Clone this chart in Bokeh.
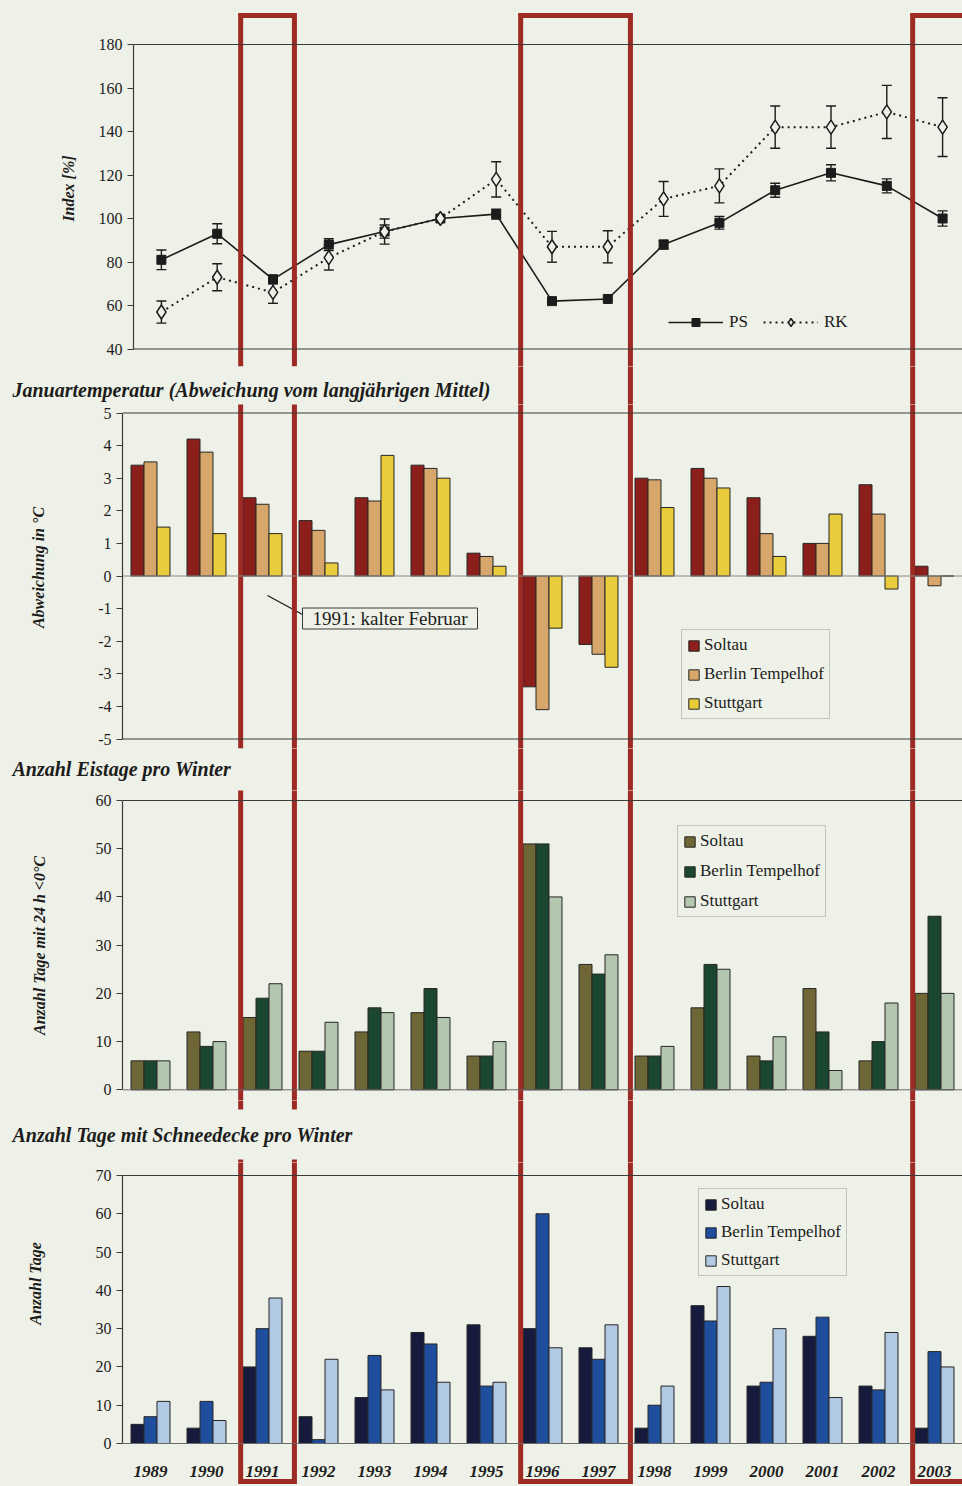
import math
from bokeh.plotting import figure
from bokeh.models import (Range1d, FixedTicker, Span, Label, Legend, LegendItem,
                          ColumnDataSource, Whisker, TeeHead)
from bokeh.layouts import column, row
from bokeh.core.properties import value
from bokeh.embed import file_html
from bokeh.resources import INLINE

# ---------------- data ----------------
YEARS = list(range(1989, 2004))
YEAR_LABELS = [str(y) for y in YEARS]
STATIONS = ["Soltau", "Berlin Tempelhof", "Stuttgart"]

PS = [81, 93, 72, 88, 94, 100, 102, 62, 63, 88, 98, 113, 121, 115, 100]
PS_ERR = [4.5, 4.6, 2.0, 2.7, 3.0, 0, 2.3, 0, 0, 2.0, 2.9, 3.2, 3.7, 3.2, 3.5]
RK = [57, 73, 66, 82, 94, 100, 118, 87, 87, 109, 115, 142, 142, 149, 142]
RK_ERR = [5.1, 6.2, 5.0, 5.7, 5.8, 0, 8.1, 7.1, 7.4, 8.0, 7.8, 9.7, 9.7, 12.2, 13.5]

TEMP_SOLTAU = [3.4, 4.2, 2.4, 1.7, 2.4, 3.4, 0.7, -3.4, -2.1, 3.0, 3.3, 2.4, 1.0, 2.8, 0.3]
TEMP_BERLIN = [3.5, 3.8, 2.2, 1.4, 2.3, 3.3, 0.6, -4.1, -2.4, 2.95, 3.0, 1.3, 1.0, 1.9, -0.3]
TEMP_STUTTGART = [1.5, 1.3, 1.3, 0.4, 3.7, 3.0, 0.3, -1.6, -2.8, 2.1, 2.7, 0.6, 1.9, -0.4, 0.0]

ICE_SOLTAU = [6, 12, 15, 8, 12, 16, 7, 51, 26, 7, 17, 7, 21, 6, 20]
ICE_BERLIN = [6, 9, 19, 8, 17, 21, 7, 51, 24, 7, 26, 6, 12, 10, 36]
ICE_STUTTGART = [6, 10, 22, 14, 16, 15, 10, 40, 28, 9, 25, 11, 4, 18, 20]

SNOW_SOLTAU = [5, 4, 20, 7, 12, 29, 31, 30, 25, 4, 36, 15, 28, 15, 4]
SNOW_BERLIN = [7, 11, 30, 1, 23, 26, 15, 60, 22, 10, 32, 16, 33, 14, 24]
SNOW_STUTTGART = [11, 6, 38, 22, 14, 16, 16, 25, 31, 15, 41, 30, 12, 29, 20]

HIGHLIGHT_YEARS = [(1991, 1991), (1996, 1997), (2003, 2003)]
ANNOTATION = "1991: kalter Februar"
TITLES = ["Januartemperatur (Abweichung vom langjährigen Mittel)",
          "Anzahl Eistage pro Winter",
          "Anzahl Tage mit Schneedecke pro Winter"]
YLABELS = ["Index [%]", "Abweichung in °C", "Anzahl Tage mit 24 h <0°C", "Anzahl Tage"]

# ---------------- style / layout ----------------
BG = "#eef1e7"
INK = "#1c1c1c"
FRAME = "#3a3a3a"
RED = "#9e2a24"
SERIF = "Liberation Serif"
TEMP_COLORS = ["#8c1f1c", "#d6a66a", "#e9cc3c"]
ICE_COLORS = ["#6e6634", "#1b4730", "#b3c6ae"]
SNOW_COLORS = ["#161a3c", "#1f4e9c", "#b2c9e4"]
PAGE_W = 962
LW = 80           # width of the y-label column
BAR_W = 0.232
RED_W = 5


class Panel:
    """Maps page pixels (of the reference) to data values of one chart panel."""
    def __init__(self, top, bottom, left, ppy, ya, yb):
        self.top, self.bottom, self.left, self.ppy = top, bottom, left, ppy
        (self.va, self.pa), (self.vb, self.pb) = ya, yb

    def vy(self, py):
        return self.va + (py - self.pa) * (self.vb - self.va) / (self.pb - self.pa)

    def vx(self, px):
        return 1988.5 + (px - self.left) / self.ppy


PN = [
    Panel(0, 366, 133, 55.8, (40, 348.5), (180, 44)),
    Panel(404, 748, 122, 56.0, (5, 412.5), (-5, 738.5)),
    Panel(790, 1100, 122, 56.0, (60, 800), (0, 1089.3)),
    Panel(1162, 1484, 122, 56.0, (70, 1175), (0, 1443)),
]
STRIPS = [(366, 404, 389), (748, 790, 768), (1100, 1162, 1134)]
YLABEL_POS = [(68, 188), (38, 567), (39, 945), (35, 1283)]


def page_x_of_year(x):
    return 122 + (x - 1988.5) * 56.0


def red_page_edges():
    return [(page_x_of_year(f - 0.39), page_x_of_year(l + 0.57)) for f, l in HIGHLIGHT_YEARS]


def base_fig(width, height, xr, yr, left=0):
    p = figure(width=width, height=height, x_range=xr, y_range=yr,
               output_backend="svg", toolbar_location=None,
               x_axis_location=None, y_axis_location=None if left == 0 else "left",
               min_border_left=left, min_border_right=0,
               min_border_top=0, min_border_bottom=0,
               background_fill_color=BG, border_fill_color=BG,
               outline_line_color=None)
    p.grid.visible = False
    return p


def make_main(pn, ticks, bounds):
    p = base_fig(PAGE_W - LW, pn.bottom - pn.top,
                 Range1d(1988.5, pn.vx(PAGE_W)),
                 Range1d(pn.vy(pn.bottom), pn.vy(pn.top)), left=pn.left - LW)
    ax = p.yaxis[0]
    ax.ticker = FixedTicker(ticks=ticks)
    ax.major_label_overrides = {t: str(t) for t in ticks}
    ax.bounds = bounds
    ax.major_label_text_font = SERIF
    ax.major_label_text_font_size = "16px"
    ax.major_label_text_color = INK
    ax.major_tick_out = 6
    ax.major_tick_in = 0
    ax.minor_tick_out = 0
    ax.minor_tick_in = 0
    ax.major_tick_line_color = FRAME
    ax.axis_line_color = FRAME
    ax.axis_line_width = 1.2
    ax.major_label_standoff = 5
    return p


def make_ylabel(pn, text, pos):
    p = base_fig(LW, pn.bottom - pn.top, Range1d(0, LW), Range1d(pn.bottom, pn.top))
    p.text(x=[pos[0]], y=[pos[1]], text=[text], angle=math.pi / 2,
           text_font=value(SERIF), text_font_style="bold italic",
           text_font_size="16px", text_color=INK,
           text_align="center", text_baseline="middle")
    return p


def make_strip(top, bottom, cy, text):
    p = base_fig(PAGE_W, bottom - top, Range1d(0, PAGE_W), Range1d(bottom, top))
    xs, ys = [], []
    for l, r in red_page_edges():
        for x in (l, r):
            xs.append([x, x])
            ys.append([bottom + 5, top - 5])
    p.multi_line(xs=xs, ys=ys, line_color=RED, line_width=RED_W)
    p.add_layout(Label(x=-2, y=cy, text=text,
                       text_font=SERIF, text_font_style="bold italic",
                       text_font_size="20px", text_color=INK,
                       text_align="left", text_baseline="middle",
                       background_fill_color=BG, padding=14))
    return p


def add_red(p, pn, top_py=None, bottom_py=None):
    y_lo = pn.vy(pn.bottom + 5) if bottom_py is None else pn.vy(bottom_py)
    y_hi = pn.vy(pn.top - 5) if top_py is None else pn.vy(top_py)
    xs, ys = [], []
    for l, r in red_page_edges():
        l, r = pn.vx(l), pn.vx(r)
        if top_py is not None:
            xs.append([l, l, r, r])
            ys.append([y_lo, y_hi, y_hi, y_lo])
        elif bottom_py is not None:
            xs.append([l, l, r, r])
            ys.append([y_hi, y_lo, y_lo, y_hi])
        else:
            xs += [[l, l], [r, r]]
            ys += [[y_lo, y_hi], [y_lo, y_hi]]
    p.multi_line(xs=xs, ys=ys, line_color=RED, line_width=RED_W, line_join="miter")


def add_bars(p, series, colors):
    rs = []
    for i, (vals, c) in enumerate(zip(series, colors)):
        src = ColumnDataSource(dict(x=[y + (i - 1) * BAR_W for y in YEARS], top=vals))
        rs.append(p.vbar(x="x", top="top", bottom=0, width=BAR_W, source=src,
                         fill_color=c, line_color="#262626", line_width=1))
    return rs


def bar_legend(p, rs, loc, spacing):
    lg = Legend(items=[LegendItem(label=s, renderers=[r]) for s, r in zip(STATIONS, rs)],
                location=loc, orientation="vertical", padding=5, margin=0,
                spacing=spacing, label_height=20, glyph_height=13, glyph_width=13,
                label_standoff=4, label_text_font=SERIF, label_text_font_size="17px",
                label_text_color=INK, border_line_color="#9a9a9a", border_line_width=1,
                background_fill_color=BG, background_fill_alpha=1.0)
    p.add_layout(lg)


def hspan(p, y, color=FRAME, width=1.2):
    p.add_layout(Span(location=y, dimension="width", line_color=color, line_width=width))


# ---------------- panel 1: index ----------------
pn1 = PN[0]
p1 = make_main(pn1, [40, 60, 80, 100, 120, 140, 160, 180], (40, 180))
hspan(p1, 180)
hspan(p1, 40)


def err_source(vals, errs):
    keep = [i for i, e in enumerate(errs) if e > 0]
    return ColumnDataSource(dict(x=[YEARS[i] for i in keep],
                                 lo=[vals[i] - errs[i] for i in keep],
                                 hi=[vals[i] + errs[i] for i in keep]))


for src in (err_source(PS, PS_ERR), err_source(RK, RK_ERR)):
    p1.add_layout(Whisker(source=src, base="x", lower="lo", upper="hi",
                          line_color=INK, line_width=1.4,
                          upper_head=TeeHead(size=10, line_color=INK, line_width=1.4),
                          lower_head=TeeHead(size=10, line_color=INK, line_width=1.4)))

ps_line = p1.line(YEARS, PS, line_color=INK, line_width=1.6)
ps_pts = p1.scatter(YEARS, PS, marker="square", size=9, fill_color=INK, line_color=INK)
rk_line = p1.line(YEARS, RK, line_color=INK, line_width=2, line_dash="2 4")
rk_pts = p1.scatter(YEARS, RK, marker="diamond", size=14,
                    fill_color=BG, line_color=INK, line_width=1.5)
lg1 = Legend(items=[LegendItem(label="PS", renderers=[ps_line, ps_pts]),
                    LegendItem(label="RK", renderers=[rk_line, rk_pts])],
             location=(535, 34), orientation="horizontal", padding=0, margin=0,
             spacing=14, glyph_width=55, glyph_height=20, label_height=20,
             label_standoff=6, label_text_font=SERIF, label_text_font_size="17px",
             label_text_color=INK, border_line_color=None, background_fill_alpha=0)
p1.add_layout(lg1)
add_red(p1, pn1, top_py=15)

# ---------------- panel 2: temperature ----------------
pn2 = PN[1]
p2 = make_main(pn2, list(range(-5, 6)), (-5, 5))
hspan(p2, 5)
hspan(p2, -5)
hspan(p2, 0, "#8a8a8a", 1)
rs2 = add_bars(p2, [TEMP_SOLTAU, TEMP_BERLIN, TEMP_STUTTGART], TEMP_COLORS)
bar_legend(p2, rs2, (559, 748 - 719), 9)
p2.segment(x0=pn2.vx(267), y0=pn2.vy(595), x1=pn2.vx(302), y1=pn2.vy(614),
           line_color=INK, line_width=1.3)
add_red(p2, pn2)
p2.quad(left=pn2.vx(302), right=pn2.vx(477), top=pn2.vy(607.5), bottom=pn2.vy(628.5),
        fill_color=BG, line_color=FRAME, line_width=1)
p2.text(x=[pn2.vx(389.5)], y=[pn2.vy(618)], text=[ANNOTATION], text_font=value(SERIF),
        text_font_size="19px", text_color=INK, text_align="center", text_baseline="middle")

# ---------------- panel 3: ice days ----------------
pn3 = PN[2]
p3 = make_main(pn3, [0, 10, 20, 30, 40, 50, 60], (0, 60))
hspan(p3, 60)
hspan(p3, 0, "#6a6a6a", 1)
rs3 = add_bars(p3, [ICE_SOLTAU, ICE_BERLIN, ICE_STUTTGART], ICE_COLORS)
bar_legend(p3, rs3, (555, 1100 - 917), 10)
add_red(p3, pn3)

# ---------------- panel 4: snow days ----------------
pn4 = PN[3]
p4 = make_main(pn4, [0, 10, 20, 30, 40, 50, 60, 70], (0, 70))
hspan(p4, 70)
hspan(p4, 0, "#6a6a6a", 1)
rs4 = add_bars(p4, [SNOW_SOLTAU, SNOW_BERLIN, SNOW_STUTTGART], SNOW_COLORS)
bar_legend(p4, rs4, (576, 1484 - 1276), 8)
p4.text(x=YEARS, y=pn4.vy(1471), text=YEAR_LABELS, text_font=value(SERIF),
        text_font_style="bold italic", text_font_size="17px", text_color=INK,
        text_align="center", text_baseline="middle")
add_red(p4, pn4, bottom_py=1481)

mains = [p1, p2, p3, p4]
rows = [row(make_ylabel(pn, t, pos), m, spacing=0)
        for pn, t, pos, m in zip(PN, YLABELS, YLABEL_POS, mains)]
strips = [make_strip(t, b, cy, txt) for (t, b, cy), txt in zip(STRIPS, TITLES)]

layout = column(rows[0], strips[0], rows[1], strips[1], rows[2], strips[2], rows[3],
                spacing=0)
html = file_html(layout, INLINE, title="Winterindex")
css = "<style>html, body { background: %s !important; }</style></head>" % BG
html = html.replace("</head>", css, 1)
open("out.html", "w").write(html)
